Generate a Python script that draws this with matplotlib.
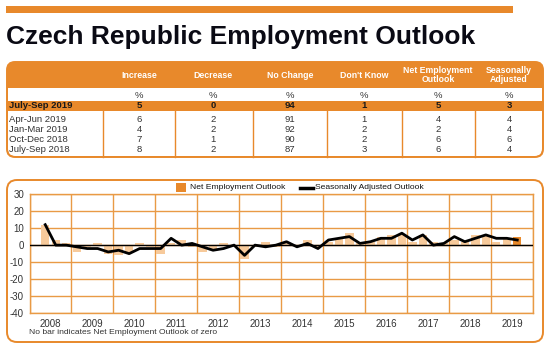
import numpy as np
import matplotlib
matplotlib.use('Agg')
import matplotlib.pyplot as plt
from matplotlib.patches import FancyBboxPatch, Rectangle
from matplotlib.lines import Line2D

plt.rcParams['font.family'] = ['Liberation Sans', 'DejaVu Sans']
plt.rcParams['axes.unicode_minus'] = False

# table data
col_heads = ['Increase', 'Decrease', 'No Change', "Don't Know", 'Net Employment\nOutlook', 'Seasonally\nAdjusted']
row_labels = ['July-Sep 2019', 'Apr-Jun 2019', 'Jan-Mar 2019', 'Oct-Dec 2018', 'July-Sep 2018']
increase = [5, 6, 4, 7, 8]
decrease = [0, 2, 2, 1, 2]
no_change = [94, 91, 92, 90, 87]
dont_know = [1, 1, 2, 2, 3]
net_outlook = [5, 4, 2, 6, 6]
seas_adj = [3, 4, 4, 6, 4]

# quarterly series, 2008 Q2 .. 2019 Q3
start_year, start_q = 2008, 2
neo_q = [12, 3, 1,
         -4, -1, 1, -5,
         -6, -4, 1, -1,
         -5, 1, 3, -1,
         -4, -2, 1, -1,
         -8, -1, 2, -1,
         1, 0, 3, -1,
         2, 4, 7, 1,
         2, 5, 6, 6,
         2, 6, 2, 1,
         3, 2, 6, 6,
         2, 4, 5]
sa_q = [12, 0, 0,
        -1, -2, -2, -4,
        -3, -5, -2, -2,
        -2, 4, 0, 1,
        -1, -3, -2, 0,
        -6, 0, -1, 0,
        2, -1, 1, -2,
        3, 4, 5, 1,
        2, 4, 4, 7,
        3, 6, 0, 1,
        5, 2, 4, 6,
        4, 4, 3]
years = list(range(2008, 2020))

ORANGE = '#E8892B'
GRIDC = '#E99A45'
PEACH = '#F7CA9B'
TXT = '#333333'

W, H = 555, 350
fig = plt.figure(figsize=(W / 100, H / 100), dpi=100)

# overlay axes in pixel coords
ov = fig.add_axes([0, 0, 1, 1], zorder=0)
ov.set_xlim(0, W)
ov.set_ylim(H, 0)
ov.axis('off')

# top bar and title
ov.add_patch(Rectangle((6, 6), 507, 7, color=ORANGE, lw=0))
ov.text(6, 44, 'Czech Republic Employment Outlook', fontsize=19, fontweight='bold',
        color='#0a0a14', va='baseline', ha='left')

# table box
tx0, ty0, tx1, ty1 = 7, 62, 543, 157
rad = 8
ov.add_patch(FancyBboxPatch((tx0, ty0), tx1 - tx0, ty1 - ty0,
                            boxstyle=f'round,pad=0,rounding_size={rad}', fc=ORANGE, ec='none'))
ov.add_patch(Rectangle((tx0 + 1, 88), tx1 - tx0 - 2, 40, fc='white', ec='none'))
ov.add_patch(FancyBboxPatch((tx0 + 1, 110), tx1 - tx0 - 2, ty1 - 110 - 1,
                            boxstyle=f'round,pad=0,rounding_size={rad - 1}', fc='white', ec='none'))
ov.add_patch(Rectangle((tx0, 101), tx1 - tx0, 10, fc=ORANGE, ec='none'))
ov.add_patch(FancyBboxPatch((tx0, ty0), tx1 - tx0, ty1 - ty0,
                            boxstyle=f'round,pad=0,rounding_size={rad}', fc='none', ec=ORANGE, lw=1.4))

col_x = [139, 213, 290, 364, 438, 509]
seps = [103, 175, 253, 327, 402, 475]
for sx in seps:
    ov.plot([sx, sx], [111, ty1], color=ORANGE, lw=1)

for cx, head in zip(col_x, col_heads):
    ov.text(cx, 75, head, ha='center', va='center', fontsize=6.3, fontweight='bold',
            color='white', linespacing=0.95)
    ov.text(cx, 95, '%', ha='center', va='center', fontsize=6.8, color=TXT)

row_y = [106, 119, 129, 139, 149]
cols = [increase, decrease, no_change, dont_know, net_outlook, seas_adj]
for i, (ry, lab) in enumerate(zip(row_y, row_labels)):
    bold = i == 0
    c = '#1a1a1a' if bold else TXT
    fw = 'bold' if bold else 'normal'
    ov.text(9, ry, lab, ha='left', va='center', fontsize=6.8, color=c, fontweight=fw)
    for cx, vals in zip(col_x, cols):
        ov.text(cx, ry, str(vals[i]), ha='center', va='center', fontsize=6.8, color=c, fontweight=fw)

# chart box
ov.add_patch(FancyBboxPatch((7, 180), 536, 162, boxstyle='round,pad=0,rounding_size=10',
                            fc='white', ec=ORANGE, lw=1.4))

# legend
ov.add_patch(Rectangle((176, 183), 10, 9, fc=ORANGE, ec='none'))
ov.text(190, 187.5, 'Net Employment Outlook', ha='left', va='center', fontsize=6.1, color='#111111')
ov.add_line(Line2D([300, 313], [187.5, 187.5], color='black', lw=2.5))
ov.text(315, 187.5, 'Seasonally Adjusted Outlook', ha='left', va='center', fontsize=6.1, color='#111111')

ov.text(29, 332, 'No bar indicates Net Employment Outlook of zero', ha='left', va='center',
        fontsize=6.1, color=TXT)

# plot axes
px0, px1, py0, py1 = 29.5, 533, 194, 313.3
ax = fig.add_axes([px0 / W, 1 - py1 / H, (px1 - px0) / W, (py1 - py0) / H], zorder=1)
n = len(neo_q)
qidx = np.arange(n) + (start_q - 1)
xq = start_year + (qidx + 0.5) / 4
bar_colors = [PEACH] * (n - 1) + [ORANGE]
ax.bar(xq, neo_q, width=0.2, color=bar_colors, zorder=2)
ax.axhline(0, color='black', lw=1, zorder=3)
ax.plot(xq, sa_q, color='black', lw=2, zorder=4)

ax.set_xlim(2008, 2020)
ax.set_ylim(-40, 30)
ax.set_yticks(range(-40, 31, 10))
ax.set_xticks(range(2008, 2021))
ax.set_xticklabels([])
ax.set_xticks([y + 0.5 for y in years], minor=True)
ax.set_xticklabels([str(y) for y in years], minor=True)
ax.tick_params(axis='both', which='both', length=0, labelsize=7, labelcolor=TXT)
ax.tick_params(axis='x', which='minor', pad=4)
ax.tick_params(axis='y', pad=4)
ax.grid(True, which='major', color=GRIDC, lw=1, zorder=0)
ax.set_axisbelow(True)
for s in ax.spines.values():
    s.set_color(GRIDC)
    s.set_linewidth(1)

fig.savefig('out.png', dpi=100)
